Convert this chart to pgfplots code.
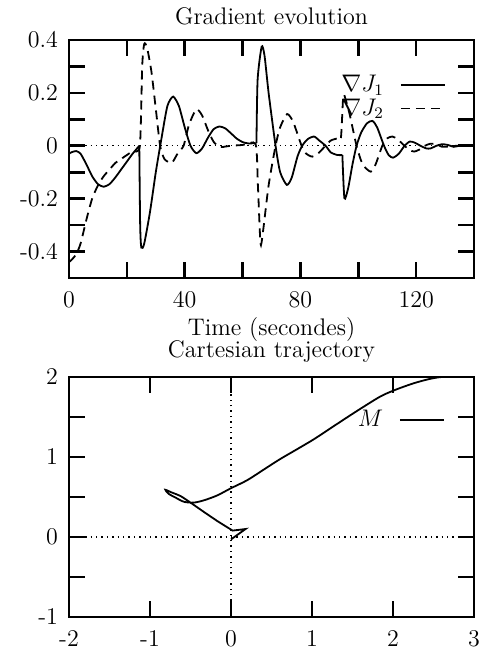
\documentclass[border=0pt]{standalone}
\usepackage{pgfplots}
\pgfplotsset{compat=1.18}

\pgfplotsset{
  gp/.style={
    scale only axis, width=202.5pt,
    axis line style={line width=1.2pt},
    tick style={line width=1.3pt, black},
    major tick length=8pt, tick align=inside,
    font=\fontsize{12}{14}\selectfont,
    every tick label/.append style={font=\fontsize{12}{14}\selectfont},
    xticklabel style={yshift=-3pt},
    yticklabel style={xshift=-2pt},
    legend style={draw=none, fill=none, inner sep=0pt, anchor=north east,
      font=\fontsize{12}{14}\selectfont, row sep=-2pt},
    legend plot pos=right, legend cell align=right,
    legend image code/.code={\path (0pt,0pt); \draw[#1] (6pt,0pt) -- (28pt,0pt);},
  },
  zero/.style={line width=0.6pt, dash pattern=on 0.7pt off 2pt, forget plot},
}

\begin{document}
\begin{tikzpicture}
\path[use as bounding box] (-34.5pt,-187.5pt) rectangle (206pt,139pt);

% gradient evolution
\begin{axis}[gp, height=119pt,
  xmin=0, xmax=140, ymin=-0.5, ymax=0.4,
  xtick={0,20,40,60,80,100,120,140}, xticklabels={0,,40,,80,,120,},
  ytick={-0.5,-0.4,-0.3,-0.2,-0.1,0,0.1,0.2,0.3,0.4},
  yticklabels={,-0.4,,-0.2,,0,,0.2,,0.4},
  title={Gradient evolution}, title style={yshift=-2pt},
  xlabel={Time (secondes)},
  xlabel style={yshift=2pt},
  legend style={at={(0.931,0.87)}},
]
\addplot[zero] coordinates {(0,0) (140,0)};
\addplot[line width=0.9pt, smooth, tension=0.4] coordinates {
(0,-0.03) (1,-0.024) (2.5,-0.02) (4,-0.03) (6,-0.07) (8,-0.115) (10,-0.145)
(12,-0.155) (14,-0.145) (16,-0.12) (18,-0.09) (20,-0.06) (22,-0.03) (24.3,0)
};
\addplot[line width=0.9pt, smooth, tension=0.4, forget plot] coordinates {
(24.3,0) (24.6,-0.30) (25,-0.385) (26,-0.37) (28,-0.25) (30,-0.10) (32,0.03)
(34,0.15) (36,0.186) (38,0.15) (40,0.07) (42,0.0) (44,-0.028) (46,-0.01)
(48,0.03) (50,0.063) (52,0.073) (54,0.066) (56,0.047) (58,0.027) (60,0.014)
(62,0.009) (64.8,0.01)
};
\addplot[line width=0.9pt, smooth, tension=0.4, forget plot] coordinates {
(64.8,0.01) (65.2,0.25) (66.6,0.375) (67.6,0.34) (69,0.2) (71.4,0.0)
(73,-0.10) (75.3,-0.148) (77,-0.12) (79,-0.04) (80.6,0.0) (82.5,0.025)
(84.7,0.035) (86.5,0.02) (88.7,0.0) (90.5,-0.025) (92.8,-0.035) (94.5,-0.035)
};
\addplot[line width=0.9pt, smooth, tension=0.4, forget plot] coordinates {
(94.5,-0.035) (95.2,-0.198) (96.5,-0.16) (98,-0.07) (99.4,0.0) (101,0.05)
(103,0.085) (104.9,0.094) (106.5,0.07) (108.9,0.0) (110.5,-0.035) (112,-0.045)
(114,-0.03) (116,0.0) (117.8,0.016) (119.5,0.012) (121.5,0.0) (123.5,-0.01)
(125,-0.01) (127,0.0) (129,0.006) (131,0.003) (133,-0.004) (135,0.0) (140,0.0)
};
\addplot[line width=0.9pt, dash pattern=on 4.5pt off 3pt, smooth, tension=0.4] coordinates {
(0,-0.44) (1,-0.43) (2.5,-0.41) (4,-0.37) (6,-0.28) (8,-0.2) (10,-0.15)
(12,-0.115) (14,-0.09) (16,-0.065) (18,-0.05) (20,-0.035) (22,-0.02) (24.5,0.0)
(25.3,0.30) (26,0.385) (27,0.37) (28.5,0.28) (30,0.14) (31.5,0.0) (33,-0.05)
(35.5,-0.065) (37.5,-0.03) (39.6,0.0) (41.5,0.08) (44,0.138) (46,0.115)
(48,0.06) (50,0.015) (52,-0.005) (54,-0.003) (56,0.0) (60,0.003) (64.5,0.006)
(65.3,-0.15) (66.2,-0.37) (67,-0.33) (69,-0.15) (71.4,0.0) (73,0.07)
(75.4,0.12) (77.5,0.09) (80.4,0.0) (82,-0.03) (84.1,-0.041) (86,-0.03)
(88.7,0.0) (90.5,0.02) (92.8,0.028) (94,0.03) (94.8,0.188) (95.5,0.18)
(97,0.12) (99.4,0.0) (101.5,-0.07) (104.3,-0.098) (106,-0.07) (108.3,0.0)
(110,0.028) (111.8,0.035) (113.5,0.025) (116,0.0) (117.5,-0.015)
(119.3,-0.022) (121,-0.015) (123,0.0) (125,0.008) (127,0.005) (129,-0.004)
(131,-0.003) (134,0.0) (140,0.0)
};
\legend{$\nabla J_1$, $\nabla J_2$}
\end{axis}

% cartesian trajectory
\begin{axis}[gp, height=120pt, at={(0pt,-169.5pt)},
  xmin=-2, xmax=3, ymin=-1, ymax=2,
  xtick={-2,-1,0,1,2,3},
  ytick={-1,-0.5,0,0.5,1,1.5,2}, yticklabels={-1,,0,,1,,2},
  xticklabels={-2,-1,0,1,2,3},
  title={Cartesian trajectory}, title style={yshift=-2pt},
  legend style={at={(0.929,0.88)}},
]
\addplot[zero] coordinates {(-2,0) (3,0)};
\addplot[zero] coordinates {(0,-1) (0,2)};
\addplot[line width=0.9pt] coordinates {
(0,-0.03) (0.18,0.10) (0.02,0.08) (-0.17,0.2) (-0.33,0.31) (-0.5,0.43)
};
\addplot[line width=0.9pt, smooth, tension=0.5, forget plot] coordinates {
(-0.5,0.43) (-0.62,0.51) (-0.74,0.56) (-0.81,0.59) (-0.77,0.54) (-0.68,0.49)
(-0.58,0.44) (-0.46,0.43) (-0.33,0.46) (-0.17,0.52) (0,0.61) (0.2,0.71)
(0.4,0.84) (0.6,0.97) (0.82,1.10) (1.02,1.22) (1.23,1.36) (1.44,1.50)
(1.64,1.63) (1.85,1.76) (2.03,1.84) (2.25,1.92) (2.45,1.975) (2.6,2.0) (2.75,2.0)
};
\legend{$M$}
\end{axis}
\end{tikzpicture}
\end{document}
